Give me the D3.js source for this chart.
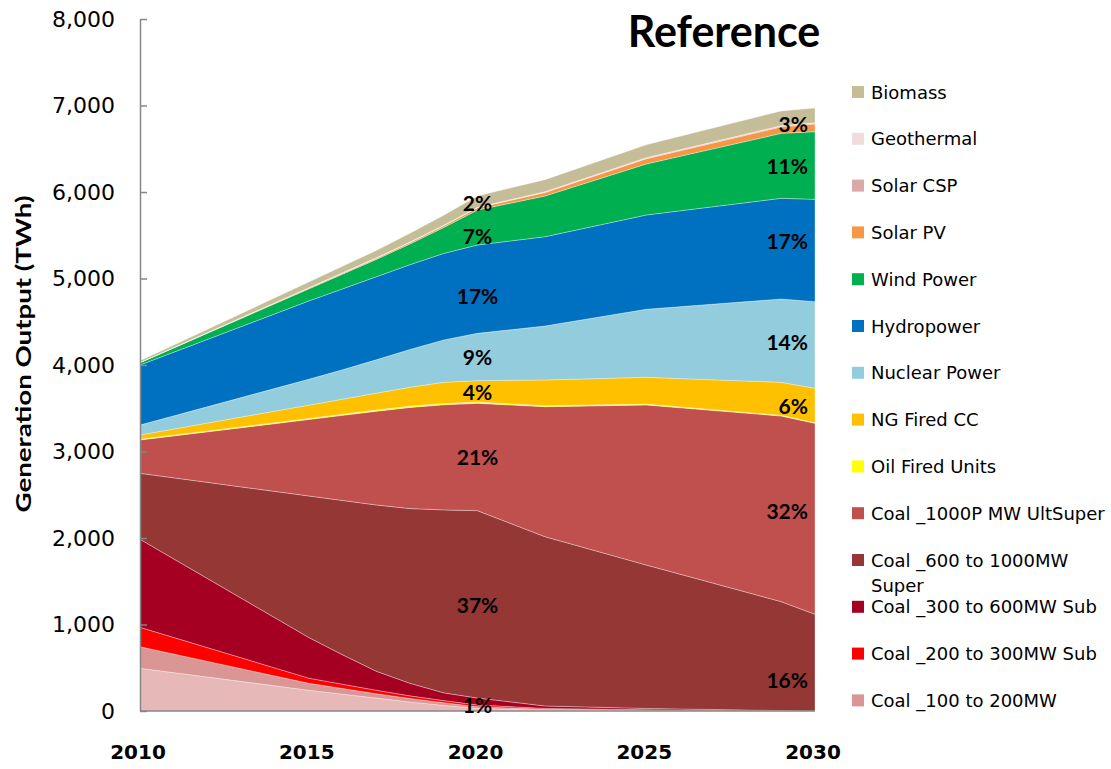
<!DOCTYPE html>
<html><head><meta charset="utf-8">
<script src="https://cdn.jsdelivr.net/npm/d3@7"></script>
<style>body{margin:0;background:#fff}</style>
</head><body><svg id="c" width="1111" height="769"></svg>
<script>
// ---------- data (TWh) ----------
const years      = [2010, 2015, 2016, 2017, 2018, 2019, 2020, 2022, 2025, 2029, 2030];
const coalLt100  = [ 494,  240,  195,  150,  105,   65,   30,   10,    5,    0,    0];
const coal100    = [ 249,   80,   65,   50,   40,   30,   20,   10,    5,    0,    0];
const coal200    = [ 224,   60,   50,   40,   30,   25,   20,   10,    5,    0,    0];
const coal300    = [1018,  470,  340,  220,  145,   90,   80,   28,   15,    5,    0];
const coal600    = [ 763, 1636, 1784, 1922, 2020, 2115, 2166, 1957, 1658, 1259, 1118];
const coal1000   = [ 385,  884,  984, 1083, 1170, 1215, 1241, 1503, 1850, 2146, 2208];
const oilFired   = [  10,   12,   13,   14,   15,   15,   15,   12,   10,    8,    5];
const ngFiredCC  = [  48,  154,  174,  195,  218,  245,  247,  297,  310,  382,  400];
const nuclear    = [ 115,  299,  340,  386,  437,  490,  547,  624,  786,  963, 1001];
const hydro      = [ 694,  905,  935,  960,  980, 1000, 1021, 1032, 1090, 1164, 1183];
const wind       = [  27,  140,  170,  200,  240,  300,  405,  471,  590,  751,  782];
const solarPV    = [   2,   10,   12,   14,   17,   20,   25,   40,   60,   75,   90];
const solarCSP   = [   0,    2,    2,    3,    3,    4,    5,    6,    8,   10,   10];
const geothermal = [   1,    2,    2,    2,    3,    3,    3,    3,    4,    4,    5];
const biomass    = [  20,   65,   75,   85,  100,  115,  130,  140,  150,  170,  170];

// stacking order, bottom first
const seriesKeys = ["Coal _Less than 100MW","Coal _100 to 200MW","Coal _200 to 300MW Sub","Coal _300 to 600MW Sub",
  "Coal _600 to 1000MW Super","Coal _1000P MW UltSuper","Oil Fired Units","NG Fired CC","Nuclear Power",
  "Hydropower","Wind Power","Solar PV","Solar CSP","Geothermal","Biomass"];
const seriesValues = [coalLt100, coal100, coal200, coal300, coal600, coal1000, oilFired, ngFiredCC, nuclear,
  hydro, wind, solarPV, solarCSP, geothermal, biomass];
// legend (top to bottom) as shown
const legendKeys = ["Biomass","Geothermal","Solar CSP","Solar PV","Wind Power","Hydropower","Nuclear Power",
  "NG Fired CC","Oil Fired Units","Coal _1000P MW UltSuper","Coal _600 to 1000MW Super","Coal _300 to 600MW Sub",
  "Coal _200 to 300MW Sub","Coal _100 to 200MW"];
const yTickValues = [0,1000,2000,3000,4000,5000,6000,7000,8000];
const xTickValues = [2010,2015,2020,2025,2030];
// share labels: text, year column, band from series -> to series
const shareLabels = [
  {text:"2%",  year:2020, from:"Solar PV", to:"Biomass"},
  {text:"7%",  year:2020, from:"Wind Power", to:"Wind Power"},
  {text:"17%", year:2020, from:"Hydropower", to:"Hydropower"},
  {text:"9%",  year:2020, from:"Nuclear Power", to:"Nuclear Power"},
  {text:"4%",  year:2020, from:"Oil Fired Units", to:"NG Fired CC"},
  {text:"21%", year:2020, from:"Coal _1000P MW UltSuper", to:"Coal _1000P MW UltSuper"},
  {text:"37%", year:2020, from:"Coal _600 to 1000MW Super", to:"Coal _600 to 1000MW Super"},
  {text:"1%",  year:2020, from:"Coal _Less than 100MW", to:"Coal _300 to 600MW Sub"},
  {text:"3%",  year:2030, from:"Solar PV", to:"Biomass"},
  {text:"11%", year:2030, from:"Wind Power", to:"Wind Power"},
  {text:"17%", year:2030, from:"Hydropower", to:"Hydropower"},
  {text:"14%", year:2030, from:"Nuclear Power", to:"Nuclear Power"},
  {text:"6%",  year:2030, from:"Oil Fired Units", to:"NG Fired CC"},
  {text:"32%", year:2030, from:"Coal _1000P MW UltSuper", to:"Coal _1000P MW UltSuper"},
  {text:"16%", year:2030, from:"Coal _600 to 1000MW Super", to:"Coal _600 to 1000MW Super"}
];

const colors = {
  "Coal _Less than 100MW":"#E6B9B8","Coal _100 to 200MW":"#D99694","Coal _200 to 300MW Sub":"#FF0000",
  "Coal _300 to 600MW Sub":"#A50021","Coal _600 to 1000MW Super":"#953735","Coal _1000P MW UltSuper":"#C0504D",
  "Oil Fired Units":"#FFFF00","NG Fired CC":"#FFC000","Nuclear Power":"#93CDDD","Hydropower":"#0070C0",
  "Wind Power":"#00B050","Solar PV":"#F79646","Solar CSP":"#DBA8A8","Geothermal":"#F2DCDB","Biomass":"#C4BD97"
};
// small visual nudges of the share labels (px)
const labelNudge = {"2%2020":0, "7%2020":8, "17%2020":6, "3%2030":4, "14%2030":-3,
  "17%2030":-10, "32%2030":-8, "16%2030":17};

// ---------- chart ----------
const svg = d3.select("#c");
const x = d3.scaleLinear().domain([2010,2030]).range([140,815]);
const y = d3.scaleLinear().domain([0,8000]).range([711,19]);

const table = years.map((yr,i)=>{
  const row = {year:yr};
  seriesKeys.forEach((k,j)=>row[k]=seriesValues[j][i]);
  return row;
});
const stacked = d3.stack().keys(seriesKeys)(table);
const area = d3.area().x(d=>x(d.data.year)).y0(d=>y(d[0])).y1(d=>y(d[1]));

svg.append("g").selectAll("path").data(stacked).join("path")
  .attr("d",area).attr("fill",d=>colors[d.key])
  .attr("stroke","#ffffff").attr("stroke-opacity",0.45).attr("stroke-width",0.7);

// axes
const yAxis = d3.axisLeft(y).tickValues(yTickValues).tickFormat(d3.format(",")).tickSizeInner(-7).tickSizeOuter(0).tickPadding(25);
const gy = svg.append("g").attr("transform","translate(140,0)").call(yAxis);
gy.select(".domain").attr("stroke","#868686").attr("stroke-width",1.5);
gy.selectAll(".tick line").attr("stroke","#868686").attr("stroke-width",1.5);
gy.selectAll(".tick text").attr("font-family","DejaVu Sans, Verdana, sans-serif").attr("font-size",22).attr("fill","#000");

svg.append("line").attr("x1",140).attr("x2",815).attr("y1",711).attr("y2",711)
  .attr("stroke","#868686").attr("stroke-width",1.5);
svg.append("g").selectAll("text").data(xTickValues).join("text")
  .attr("x",d=>x(d)-2).attr("y",752).attr("dominant-baseline","central").attr("text-anchor","middle")
  .attr("font-family","DejaVu Sans, Verdana, sans-serif").attr("font-weight","bold").attr("font-size",20)
  .text(d=>d);

// y title
svg.append("text").attr("transform","translate(22,354) rotate(-90)")
  .attr("text-anchor","middle").attr("dominant-baseline","central")
  .attr("font-family","Lato, sans-serif").attr("font-weight","bold").attr("font-size",21)
  .attr("textLength",317).attr("lengthAdjust","spacingAndGlyphs")
  .text("Generation Output (TWh)");

// title
svg.append("text").attr("x",724).attr("y",30).attr("text-anchor","middle").attr("dominant-baseline","central")
  .attr("font-family","Lato, sans-serif").attr("font-weight","bold").attr("font-size",43).text("Reference");

// share labels
const byKey = {}; stacked.forEach(s=>byKey[s.key]=s);
svg.append("g").selectAll("text").data(shareLabels).join("text")
  .attr("x",d=> d.year===2030 ? x(d.year)-7 : x(d.year))
  .attr("text-anchor",d=> d.year===2030 ? "end" : "middle")
  .attr("y",d=>{
    const i = years.indexOf(d.year);
    const lo = byKey[d.from][i][0], hi = byKey[d.to][i][1];
    return y((lo+hi)/2) + (labelNudge[d.text+d.year]||0);
  })
  .attr("dominant-baseline","central")
  .attr("font-family","Lato, sans-serif").attr("font-weight","bold").attr("font-size",21)
  .text(d=>d.text);

// legend
const lg = svg.append("g");
legendKeys.forEach((k,i)=>{
  const cy = 92 + i*46.8;
  lg.append("rect").attr("x",852).attr("y",cy-6).attr("width",12).attr("height",12).attr("fill",colors[k]);
  const t = lg.append("text").attr("x",871).attr("y",cy).attr("dominant-baseline","central")
    .attr("font-family","DejaVu Sans, Verdana, sans-serif").attr("font-size",18).attr("fill","#000").text(k);
  if (t.node().getComputedTextLength() > 238) {
    const words = k.split(" ");
    t.text(null);
    let line = [], lines = [];
    const tmp = lg.append("text").attr("font-family","DejaVu Sans, Verdana, sans-serif").attr("font-size",18);
    words.forEach(w=>{
      tmp.text([...line,w].join(" "));
      if (tmp.node().getComputedTextLength() > 238 && line.length) { lines.push(line.join(" ")); line=[w]; }
      else line.push(w);
    });
    lines.push(line.join(" "));
    tmp.remove();
    lines.forEach((ln,j)=>t.append("tspan").attr("x",871).attr("dy",j?25:0).text(ln));
  }
});
</script></body></html>
